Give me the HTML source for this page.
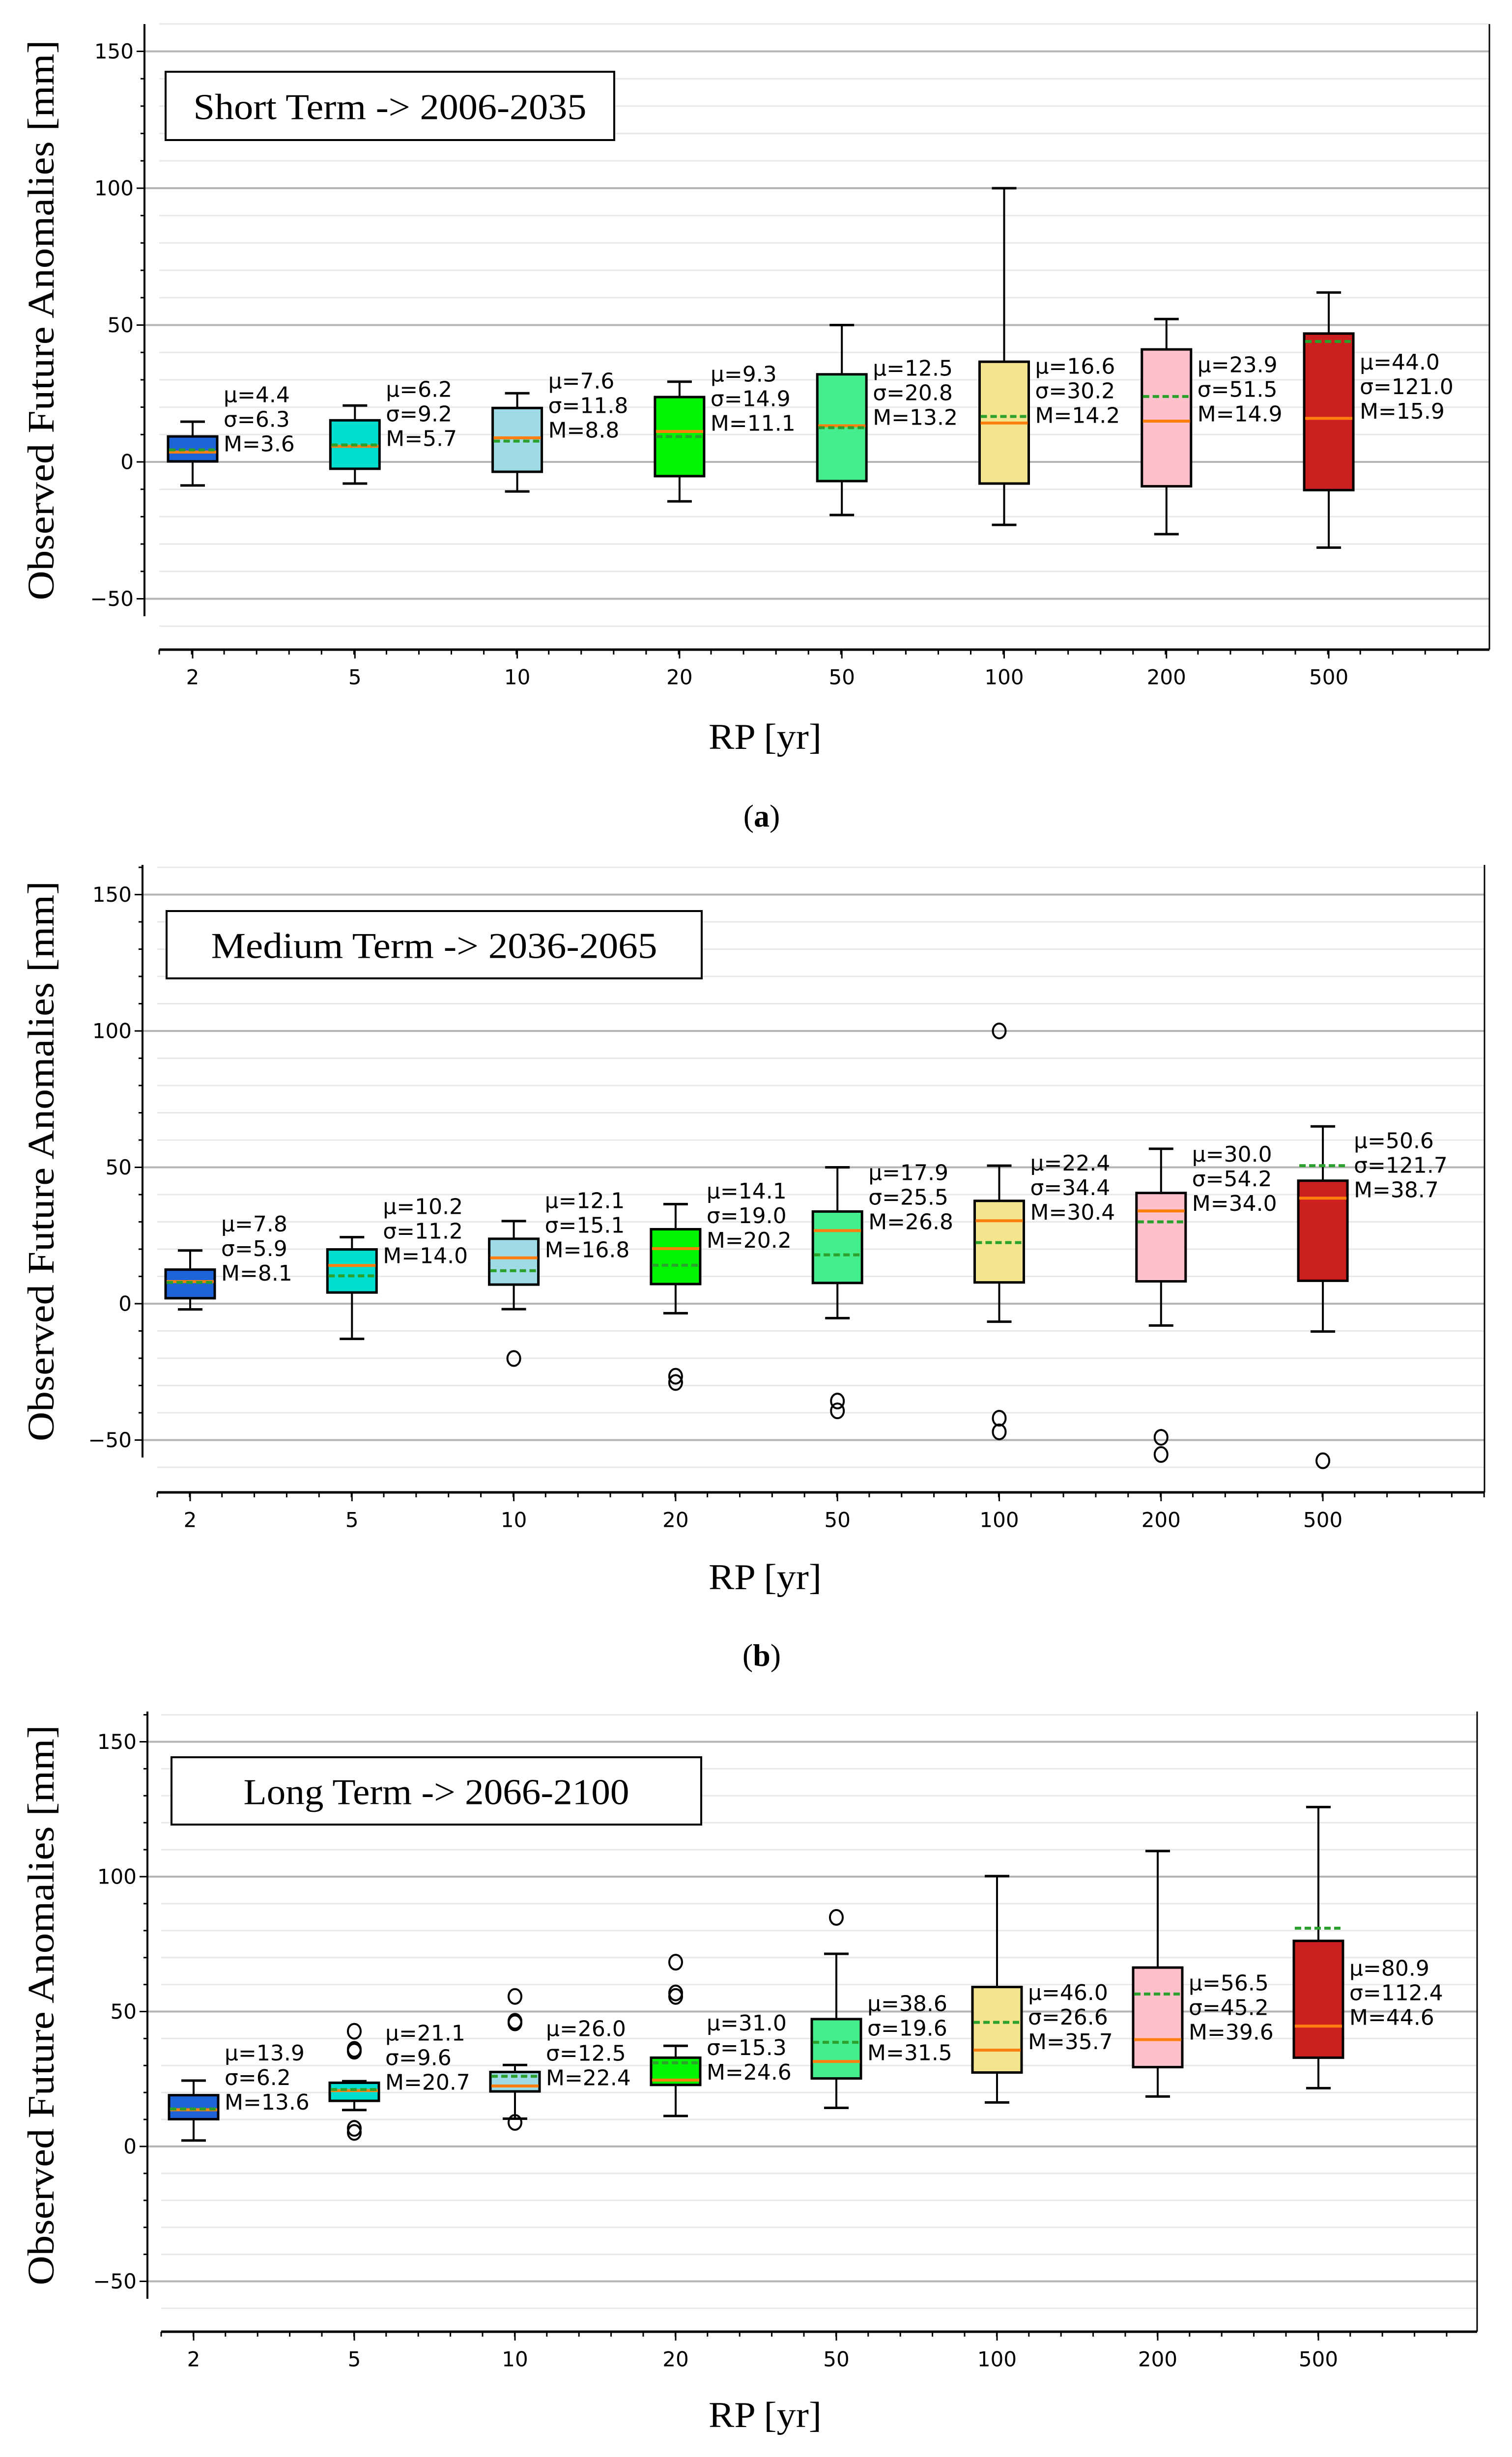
<!DOCTYPE html>
<html><head><meta charset="utf-8"><style>
html,body{margin:0;padding:0;background:#fff;width:3077px;height:5132px;overflow:hidden;}
svg{display:block;}
.tick{font-family:"DejaVu Sans",sans-serif;font-size:42px;fill:#000;}
.ann{font-family:"DejaVu Sans",sans-serif;font-size:44px;fill:#000;}
.serif{font-family:"Liberation Serif",serif;fill:#000;}
</style></head>
<body>
<svg id="fig" xmlns="http://www.w3.org/2000/svg" width="3077" height="5132" viewBox="0 0 3077 5132"></svg>
<script>
// ---- data ----
const categories = ["2","5","10","20","50","100","200","500"];
const yTickLabels = [150,100,50,0,-50];
const colors = ["#1f63d8","#00dfcf","#9fdbe6","#00f500","#44ee8c","#f3e58d","#ffc0cb","#cc1f1f"];
const panelTitles = ["Short Term -> 2006-2035","Medium Term -> 2036-2065","Long Term -> 2066-2100"];
const panelLetters = ["a","b","c"];
// panel a
const aWhiskLo = [-8.6,-7.9,-10.8,-14.4,-19.4,-23,-26.4,-31.3];
const aQ1 = [0.2,-2.5,-3.6,-5.2,-7,-7.9,-8.9,-10.3];
const aMedian = [3.6,5.7,8.8,11.1,13.2,14.2,14.9,15.9];
const aMean = [4.4,6.2,7.6,9.3,12.5,16.6,23.9,44.0];
const aQ3 = [9.3,15.2,19.7,23.7,32,36.6,41.1,46.9];
const aWhiskHi = [14.7,20.6,25.1,29.3,50,100,52.2,61.9];
const aSigma = ["6.3","9.2","11.8","14.9","20.8","30.2","51.5","121.0"];
const aOutliers = [[],[],[],[],[],[],[],[]];
const aLabelY = [24.4,26.4,29.4,32,34.1,34.8,35.4,36.4];
// panel b
const bWhiskLo = [-2.1,-12.9,-2,-3.5,-5.3,-6.6,-8,-10.2];
const bQ1 = [2,4.1,7,7.2,7.6,7.8,8.2,8.4];
const bMedian = [8.1,14.0,16.8,20.2,26.8,30.4,34.0,38.7];
const bMean = [7.8,10.2,12.1,14.1,17.9,22.4,30.0,50.6];
const bQ3 = [12.5,19.9,23.8,27.3,33.8,37.7,40.6,45.1];
const bWhiskHi = [19.5,24.4,30.3,36.5,50,50.6,56.8,65];
const bSigma = ["5.9","11.2","15.1","19.0","25.5","34.4","54.2","121.7"];
const bOutliers = [[],[],[-20.1],[-26.6,-28.9],[-35.7,-39.3],[100,-42,-47],[-49,-55.3],[-57.6]];
const bLabelY = [29.1,35.5,37.7,41.2,47.9,51.4,54.7,59.6];
// panel c
const cWhiskLo = [2.2,13.5,10.3,11.3,14.3,16.3,18.5,21.6];
const cQ1 = [10.1,16.9,20.4,22.8,25.2,27.4,29.4,32.9];
const cMedian = [13.6,20.7,22.4,24.6,31.5,35.7,39.6,44.6];
const cMean = [13.9,21.1,26.0,31.0,38.6,46.0,56.5,80.9];
const cQ3 = [19,23.6,27.6,32.9,47.2,59.1,66.3,76.2];
const cWhiskHi = [24.4,24.2,30.2,37.3,71.4,100.2,109.5,125.8];
const cSigma = ["6.2","9.6","12.5","15.3","19.6","26.6","45.2","112.4"];
const cOutliers = [[],[42.7,36,35.3,6.7,5.2],[55.6,46.4,45.8,8.9],[68.3,56.9,55.6],[84.9],[],[],[]];
const cLabelY = [34.5,41.9,43.5,45.6,52.8,56.9,60.5,65.9];

// ---- layout (geometry, not data) ----
const geoms = [
 {zero:940, ppu:5.57, x0:392, dx:330.3, spineX:294, top:49, spineBot:1254, axY:1322, axL:324, right:3031, legend:[337,146,913,139], titleW:800, rpY:1500, letY:1660},
 {zero:2653, ppu:5.55, x0:387, dx:329.3, spineX:290, top:1760, spineBot:2966, axY:3037, axL:320, right:3021, legend:[339,1854,1089,137], titleW:908, rpY:3210, letY:3368},
 {zero:4368, ppu:5.49, x0:394, dx:327, spineX:300, top:3483, spineBot:4678, axY:4745, axL:328, right:3006, legend:[349,3576,1078,137], titleW:785, rpY:4915, letY:5072}
];
const panelData = [
 [aWhiskLo,aQ1,aMedian,aMean,aQ3,aWhiskHi,aSigma,aOutliers,aLabelY],
 [bWhiskLo,bQ1,bMedian,bMean,bQ3,bWhiskHi,bSigma,bOutliers,bLabelY],
 [cWhiskLo,cQ1,cMedian,cMean,cQ3,cWhiskHi,cSigma,cOutliers,cLabelY]
];

const NS="http://www.w3.org/2000/svg";
const svg=document.getElementById('fig');
function mk(tag,attrs,parent){const e=document.createElementNS(NS,tag);for(const k in attrs)e.setAttribute(k,attrs[k]);(parent||svg).appendChild(e);return e;}

panelData.forEach((pd,p)=>{
  const g=geoms[p];
  const [wLo,q1,med,mean,q3,wHi,sig,outs,labY]=pd;
  const Y=v=>g.zero-v*g.ppu;
  const X=i=>g.x0+i*g.dx;
  const grp=mk('g',{});
  
  
  for(let v=-60;v<=160;v+=10){
    const major=(v%50===0);
    const l=mk('line',{x1:major?g.spineX:g.axL,x2:g.right,y1:Y(v),y2:Y(v),stroke:major?'#b4b4b4':'#e8e8e8','stroke-width':major?4:3},grp);
    
    
  }
  const sp=mk('line',{x1:g.spineX,x2:g.spineX,y1:g.top,y2:g.spineBot,stroke:'#000','stroke-width':4},grp);
  
  
  const rs=mk('line',{x1:g.right,x2:g.right,y1:g.top,y2:g.axY,stroke:'#000','stroke-width':3},grp);
  
  
  const xa=mk('line',{x1:g.axL,x2:g.right,y1:g.axY,y2:g.axY,stroke:'#000','stroke-width':5},grp);
  
  
  for(let v=-60;v<=160;v+=10){
    const major=(v%50===0);
    if(Y(v)<g.top||Y(v)>g.spineBot)continue;
    mk('line',{x1:g.spineX-(major?16:8),x2:g.spineX,y1:Y(v),y2:Y(v),stroke:'#000','stroke-width':3},grp);
  }
  yTickLabels.forEach(v=>{
    const t=mk('text',{x:g.spineX-22,y:Y(v),'text-anchor':'end','dominant-baseline':'central',class:'tick'},grp);
    t.textContent=(v<0?'\u2212'+(-v):String(v));
    
    
  });
  for(let x=g.axL;x<=g.right;x+=g.dx/5){
    mk('line',{x1:x,x2:x,y1:g.axY,y2:g.axY+10,stroke:'#000','stroke-width':3},grp);
  }
  categories.forEach((c,i)=>{
    mk('line',{x1:X(i),x2:X(i),y1:g.axY,y2:g.axY+18,stroke:'#000','stroke-width':3},grp);
    const t=mk('text',{x:X(i),y:g.axY+56,'text-anchor':'middle','dominant-baseline':'central',class:'tick'},grp);
    t.textContent=c;
    
    
  });
  const bw=100, cw=50;
  categories.forEach((c,i)=>{
    const x=X(i);
    const bg=mk('g',{},grp);
    
    
    mk('line',{x1:x,x2:x,y1:Y(wHi[i]),y2:Y(q3[i]),stroke:'#000','stroke-width':4},bg);
    mk('line',{x1:x,x2:x,y1:Y(q1[i]),y2:Y(wLo[i]),stroke:'#000','stroke-width':4},bg);
    mk('line',{x1:x-cw/2,x2:x+cw/2,y1:Y(wHi[i]),y2:Y(wHi[i]),stroke:'#000','stroke-width':5},bg);
    mk('line',{x1:x-cw/2,x2:x+cw/2,y1:Y(wLo[i]),y2:Y(wLo[i]),stroke:'#000','stroke-width':5},bg);
    mk('rect',{x:x-bw/2,y:Y(q3[i]),width:bw,height:Y(q1[i])-Y(q3[i]),fill:colors[i],stroke:'#000','stroke-width':5},bg);
    const md=mk('line',{x1:x-bw/2+2,x2:x+bw/2-2,y1:Y(med[i]),y2:Y(med[i]),stroke:'#ff7f0e','stroke-width':6},bg);
    
    
    const mn=mk('line',{x1:x-bw/2+2,x2:x+bw/2-2,y1:Y(mean[i]),y2:Y(mean[i]),stroke:'#2ca02c','stroke-width':6,'stroke-dasharray':'13 7'},bg);
    
    
    outs[i].forEach(o=>{
      const ci=mk('ellipse',{cx:x,cy:Y(o),rx:13,ry:15,fill:'none',stroke:'#000','stroke-width':4},bg);
      
      
    });
    const ly=Y(labY[i]);
    const lines=['\u03bc='+mean[i].toFixed(1),'\u03c3='+sig[i],'M='+med[i].toFixed(1)];
    lines.forEach((s,k)=>{
      const t=mk('text',{x:x+bw/2+13,y:ly+k*50,'dominant-baseline':'central',class:'ann'},bg);
      t.textContent=s;
      
      
    });
  });
  const [lx,ly,lw,lh]=g.legend;
  const lb=mk('rect',{x:lx,y:ly,width:lw,height:lh,fill:'#fff',stroke:'#000','stroke-width':4},grp);
  
  
  const lt=mk('text',{x:lx+lw/2,y:ly+lh/2+3,'text-anchor':'middle','dominant-baseline':'central',class:'serif','font-size':74,textLength:g.titleW,lengthAdjust:'spacingAndGlyphs'},grp);
  lt.textContent=panelTitles[p];
  
  
  const cy=(g.top+g.spineBot)/2;
  const yt=mk('text',{x:0,y:0,transform:`translate(84,${cy}) rotate(-90)`,'text-anchor':'middle','dominant-baseline':'central',class:'serif','font-size':76,textLength:1140,lengthAdjust:'spacingAndGlyphs'},grp);
  yt.textContent='Observed Future Anomalies [mm]';
  
  
  const xt=mk('text',{x:1557,y:g.rpY,'text-anchor':'middle','dominant-baseline':'central',class:'serif','font-size':74,textLength:230,lengthAdjust:'spacingAndGlyphs'},grp);
  xt.textContent='RP [yr]';
  
  
  const pl=mk('text',{x:1550,y:g.letY,'text-anchor':'middle','dominant-baseline':'central',class:'serif','font-size':64},grp);
  pl.innerHTML='(<tspan font-weight="bold">'+panelLetters[p]+'</tspan>)';
  
  
});
</script>
</body></html>
